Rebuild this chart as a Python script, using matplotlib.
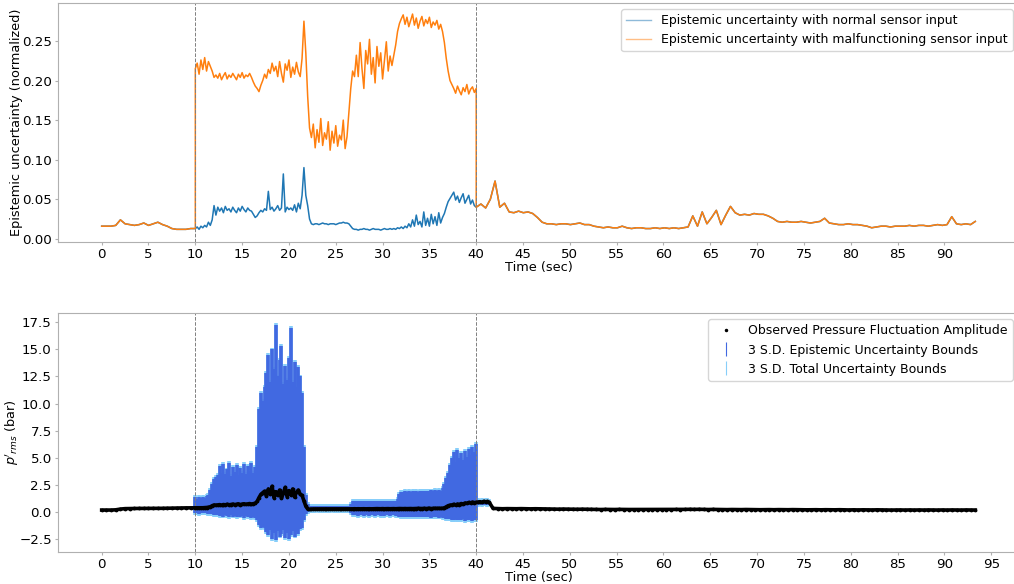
import numpy as np
import matplotlib
matplotlib.use("Agg")
import matplotlib.pyplot as plt
from matplotlib.lines import Line2D

# ---- top panel: normalized epistemic uncertainty ----
# shared part before the fault window (0-10 s, 0.5 s steps)
unc_pre = [0.016, 0.016, 0.016, 0.017, 0.024, 0.019, 0.018, 0.017, 0.018, 0.020,
           0.017, 0.019, 0.021, 0.018, 0.016, 0.013, 0.012, 0.012, 0.012, 0.013, 0.013]

# fault window 10-40 s (0.2 s steps)
unc_malf_mid = [
    0.215, 0.222, 0.208, 0.226, 0.214, 0.229, 0.212, 0.224, 0.218,
    0.212, 0.204, 0.207,
    0.203, 0.209, 0.201, 0.206, 0.210, 0.202, 0.207, 0.204, 0.209, 0.205,
    0.201, 0.208, 0.204, 0.210, 0.203, 0.207, 0.205, 0.209, 0.204,
    0.198, 0.193, 0.190, 0.186, 0.194,
    0.200, 0.208, 0.203, 0.214, 0.209, 0.222, 0.212,
    0.218, 0.205, 0.224, 0.209, 0.198, 0.221, 0.213, 0.226, 0.204, 0.217,
    0.208, 0.223, 0.211, 0.205,
    0.228, 0.275, 0.235, 0.180, 0.140,
    0.128, 0.145, 0.115, 0.138, 0.122, 0.152, 0.118, 0.134, 0.126, 0.148,
    0.112, 0.136, 0.121, 0.143, 0.117, 0.131, 0.125, 0.150, 0.114, 0.129,
    0.160, 0.190, 0.212, 0.205,
    0.232, 0.205, 0.248, 0.215, 0.190, 0.238, 0.221, 0.252, 0.208, 0.229,
    0.197, 0.243, 0.218, 0.235, 0.202, 0.226, 0.249, 0.212, 0.231, 0.219,
    0.232, 0.245, 0.262, 0.272,
    0.278, 0.283, 0.271, 0.280, 0.268, 0.276, 0.284, 0.270, 0.279, 0.266, 0.275,
    0.281, 0.269, 0.277, 0.272, 0.280, 0.267, 0.274, 0.270, 0.276, 0.265, 0.271,
    0.262, 0.248, 0.228, 0.212, 0.200, 0.195,
    0.190, 0.184, 0.193, 0.187, 0.182, 0.191, 0.186, 0.195, 0.183, 0.189,
    0.192, 0.185, 0.190]

unc_norm_mid = [
    0.013, 0.015, 0.012, 0.016, 0.014, 0.017, 0.015,
    0.021, 0.017, 0.024, 0.042, 0.030,
    0.040, 0.035, 0.039, 0.033, 0.041, 0.036, 0.038, 0.034, 0.040, 0.036,
    0.033, 0.039, 0.035, 0.041, 0.037, 0.034, 0.039, 0.036, 0.035,
    0.031, 0.027, 0.029, 0.033,
    0.036, 0.034, 0.038, 0.036, 0.060, 0.037, 0.040, 0.035, 0.038, 0.042, 0.036,
    0.039, 0.082, 0.034, 0.040, 0.037, 0.039, 0.036, 0.043, 0.034, 0.045, 0.038,
    0.055, 0.090, 0.055, 0.042, 0.025,
    0.019, 0.018, 0.019, 0.019, 0.018, 0.019, 0.020, 0.019, 0.019, 0.018,
    0.019, 0.019, 0.019, 0.018, 0.019, 0.020, 0.020, 0.021, 0.020, 0.020,
    0.019, 0.016, 0.013, 0.012,
    0.012, 0.011, 0.012, 0.012, 0.013, 0.012, 0.012, 0.011, 0.012, 0.013,
    0.012, 0.012, 0.012, 0.011, 0.012, 0.013, 0.012, 0.012, 0.013, 0.012,
    0.013, 0.012, 0.014, 0.013, 0.015, 0.013,
    0.016, 0.014, 0.019, 0.015, 0.024, 0.016, 0.030, 0.018, 0.022, 0.015, 0.034,
    0.017, 0.026, 0.016, 0.031, 0.019, 0.028, 0.017, 0.033, 0.020, 0.027,
    0.032, 0.040, 0.047, 0.051, 0.055,
    0.059, 0.049, 0.054, 0.046, 0.052, 0.057, 0.045, 0.050, 0.055, 0.044,
    0.049, 0.042, 0.040]

# shared part after the fault window (40-93.3 s, ~0.5 s steps)
unc_post = [
    0.040, 0.044, 0.039, 0.050, 0.073, 0.040, 0.045,
    0.034, 0.033, 0.035, 0.033, 0.034, 0.032,
    0.027, 0.021, 0.019,
    0.019, 0.018, 0.019, 0.019, 0.018, 0.019, 0.020, 0.018, 0.018,
    0.016, 0.015,
    0.014, 0.015, 0.014, 0.014, 0.016, 0.014, 0.013, 0.014, 0.014, 0.013,
    0.013, 0.014, 0.013, 0.014, 0.013, 0.014, 0.013, 0.014, 0.015,
    0.029, 0.016, 0.034, 0.019, 0.027, 0.036, 0.018,
    0.030, 0.041, 0.033,
    0.030, 0.031, 0.030, 0.032, 0.031, 0.031, 0.029,
    0.026, 0.022,
    0.021, 0.022, 0.021, 0.021, 0.022, 0.021, 0.020, 0.021, 0.022,
    0.026, 0.020,
    0.019, 0.018, 0.018, 0.019, 0.018, 0.018, 0.017,
    0.016, 0.014, 0.015,
    0.016, 0.016, 0.015, 0.016, 0.016, 0.016, 0.017, 0.016, 0.017, 0.017,
    0.016, 0.017, 0.018, 0.017, 0.018,
    0.028, 0.019,
    0.018, 0.019, 0.018, 0.022]

# ---- bottom panel: observed p'rms and predicted uncertainty bounds ----
obs_pre = [0.15, 0.15, 0.15, 0.17, 0.24, 0.28, 0.29, 0.30, 0.30, 0.30,
           0.31, 0.30, 0.31, 0.31, 0.32, 0.33, 0.34, 0.34, 0.35, 0.35]

# 10-41.4 s, 0.2 s steps
obs_band = [
    0.35, 0.36, 0.35, 0.36, 0.36, 0.37, 0.37, 0.40,
    0.45, 0.55, 0.62, 0.60,
    0.62, 0.65, 0.60, 0.66, 0.63, 0.68, 0.64, 0.66, 0.70, 0.65, 0.68,
    0.72, 0.66, 0.70, 0.73, 0.68, 0.71, 0.75, 0.70, 0.74, 0.78,
    0.95, 1.30, 1.60, 1.75,
    1.90, 1.45, 2.10, 1.60, 2.35, 1.30, 1.85, 1.50, 2.00, 1.25,
    1.70, 2.25, 1.40, 1.95, 1.55, 2.10, 1.35, 1.80, 2.00, 1.60,
    1.50, 1.00, 0.50, 0.25, 0.22,
    0.24, 0.25, 0.25, 0.26, 0.25, 0.25, 0.26, 0.25, 0.25, 0.26, 0.25,
    0.25, 0.26, 0.25, 0.26, 0.26, 0.25, 0.26, 0.26, 0.25, 0.26,
    0.26, 0.26, 0.27, 0.26, 0.27, 0.26, 0.27, 0.27, 0.26, 0.27,
    0.27, 0.26, 0.27, 0.27, 0.28, 0.27, 0.27, 0.28, 0.27, 0.28,
    0.28, 0.27, 0.28, 0.28, 0.27, 0.28, 0.29, 0.28, 0.28, 0.29,
    0.28, 0.29, 0.29, 0.28, 0.29, 0.29, 0.30, 0.29, 0.29, 0.30,
    0.29, 0.30, 0.30, 0.29, 0.30, 0.31, 0.30, 0.31, 0.30, 0.31,
    0.35, 0.45, 0.55, 0.60,
    0.62, 0.68, 0.60, 0.70, 0.66, 0.75, 0.70, 0.80, 0.78, 0.85,
    0.80, 0.88, 0.84, 0.86,
    0.88, 0.92, 0.86, 0.95, 0.90, 0.94, 0.85]

epi_hi = [
    1.35, 1.20, 1.40, 1.25, 1.38, 1.30, 1.42, 1.50,
    2.00, 2.60, 3.00, 3.20,
    3.40, 4.20, 3.60, 4.40, 3.50, 3.90, 4.50, 3.30, 4.10, 3.70, 4.30,
    3.40, 4.00, 3.60, 4.40, 3.50, 4.20, 3.80, 4.50, 3.60, 4.10,
    6.00, 9.50, 11.0, 10.2,
    11.5, 12.8, 14.5, 12.0, 15.0, 13.2, 17.3, 12.5, 14.0, 15.3,
    11.8, 13.5, 12.2, 14.2, 17.0, 12.0, 13.8, 11.5, 13.4, 12.5,
    11.0, 6.00, 1.50, 0.70, 0.55,
    0.55, 0.52, 0.55, 0.53, 0.56, 0.54, 0.55, 0.52, 0.56, 0.54, 0.55,
    0.53, 0.55, 0.56, 0.54, 0.55, 0.53, 0.56, 0.55, 0.54, 0.55,
    0.70, 0.95,
    1.00, 0.98, 1.02, 0.97, 1.01, 0.99, 1.03, 0.98, 1.00, 1.02,
    0.97, 1.01, 0.99, 1.02, 0.98, 1.00, 1.03, 0.99, 1.01, 0.98,
    0.99, 1.02, 1.00,
    1.20, 1.60,
    1.85, 1.80, 1.90, 1.82, 1.88, 1.84, 1.92, 1.86, 1.90, 1.83,
    1.91, 1.87, 1.93, 1.88, 1.95, 1.90, 1.96, 1.92, 1.98, 1.94,
    2.00, 1.95, 2.20,
    2.60, 3.10, 3.60, 4.30, 5.00, 5.50, 4.60, 5.70, 5.00, 5.40,
    4.80, 5.60, 5.10, 5.80, 5.20, 6.00, 5.50, 6.30,
    1.05, 1.02, 1.06, 1.03, 1.05, 1.04, 1.02]

epi_lo = [
    -0.15, -0.10, -0.18, -0.12, -0.15, -0.10, -0.16, -0.20,
    -0.22, -0.25, -0.30, -0.30,
    -0.30, -0.40, -0.35, -0.45, -0.30, -0.40, -0.50, -0.35, -0.45, -0.40, -0.50,
    -0.35, -0.45, -0.40, -0.55, -0.40, -0.50, -0.45, -0.55, -0.50, -0.60,
    -0.80, -1.20, -1.50, -1.40,
    -1.50, -1.90, -2.20, -1.70, -2.50, -2.00, -2.60, -1.80, -2.30, -2.10,
    -1.70, -2.40, -2.00, -2.50, -2.20, -1.80, -2.30, -1.90, -2.10, -1.60,
    -1.50, -0.80, -0.20, 0.00, 0.08,
    0.10, 0.09, 0.10, 0.11, 0.10, 0.09, 0.10, 0.11, 0.10, 0.09, 0.10,
    0.11, 0.10, 0.09, 0.10, 0.10, 0.11, 0.10, 0.09, 0.10, 0.10,
    -0.10, -0.30,
    -0.35, -0.33, -0.36, -0.34, -0.35, -0.37, -0.34, -0.35, -0.36, -0.33,
    -0.35, -0.36, -0.34, -0.35, -0.37, -0.34, -0.36, -0.35, -0.34, -0.36,
    -0.35, -0.34, -0.36,
    -0.40, -0.45,
    -0.50, -0.48, -0.52, -0.49, -0.51, -0.50, -0.53, -0.49, -0.51, -0.50,
    -0.52, -0.50, -0.53, -0.51, -0.52, -0.50, -0.54, -0.51, -0.53, -0.52,
    -0.54, -0.52, -0.55,
    -0.60, -0.65, -0.70, -0.70, -0.75, -0.80, -0.70, -0.80, -0.75, -0.80,
    -0.70, -0.85, -0.75, -0.80, -0.70, -0.85, -0.75, -0.80,
    0.65, 0.68, 0.64, 0.66, 0.67, 0.65, 0.66]

ale_3sd = 0.18  # extra width of the total (epistemic + aleatoric) bounds

obs_post = [
    0.30,
    0.28, 0.27, 0.28, 0.27, 0.27, 0.28, 0.27, 0.26, 0.27, 0.26, 0.25,
    0.24, 0.24, 0.23, 0.24, 0.23, 0.23, 0.22, 0.23, 0.22,
    0.21, 0.21, 0.20, 0.21, 0.20, 0.20, 0.21, 0.20, 0.20, 0.20,
    0.20, 0.19, 0.20, 0.20, 0.19, 0.20, 0.19, 0.20, 0.21, 0.20,
    0.21, 0.22, 0.21, 0.22, 0.21, 0.20, 0.21, 0.20, 0.20, 0.19,
    0.20, 0.19, 0.19, 0.20, 0.19, 0.19, 0.18, 0.19, 0.19, 0.18,
    0.19, 0.18, 0.18, 0.19, 0.18, 0.18, 0.17, 0.18, 0.18, 0.17,
    0.18, 0.17, 0.17, 0.18, 0.17, 0.16, 0.17, 0.16, 0.17, 0.16,
    0.16, 0.17, 0.16, 0.16, 0.15, 0.16, 0.16, 0.15, 0.16, 0.15,
    0.16, 0.15, 0.16, 0.15, 0.15, 0.16, 0.15, 0.16, 0.15, 0.15,
    0.16, 0.15, 0.15]

fault_times = [10, 40]

# time grids
t_pre = np.linspace(0, 10, len(unc_pre))
t_mid = np.linspace(10, 40, len(unc_malf_mid))
t_post = np.linspace(40, 93.3, len(unc_post))
t_obs_pre = np.linspace(0, 9.5, len(obs_pre))
t_band = np.linspace(10, 41.4, len(obs_band))
t_obs_post = np.linspace(41.8, 93.3, len(obs_post))

t_top = np.concatenate([t_pre, t_mid, t_post])
unc_norm = np.concatenate([unc_pre, unc_norm_mid, unc_post])
unc_malf = np.concatenate([unc_pre, unc_malf_mid, unc_post])

epi_hi = np.array(epi_hi)
epi_lo = np.array(epi_lo)
pred_mid = (epi_hi + epi_lo) / 2
epi_half = (epi_hi - epi_lo) / 2
tot_half = epi_half + ale_3sd

spine_col = "#b0b0b0"
c_norm, c_malf = "#1f77b4", "#ff7f0e"
leg_fs = 9.0
lab_fs = 9.3

fig = plt.figure(figsize=(10.14, 5.84), dpi=100)
ax1 = fig.add_axes([0.0572, 0.5856, 0.9477, 0.4093])
ax2 = fig.add_axes([0.0572, 0.0548, 0.9477, 0.4092])

ax1.plot(t_top, unc_norm, color=c_norm, lw=1.1)
ax1.plot(t_top, unc_malf, color=c_malf, lw=1.1)
leg_lines = [Line2D([], [], color=c_norm, lw=1.0, alpha=0.5),
             Line2D([], [], color=c_malf, lw=1.0, alpha=0.5)]
ax1.legend(leg_lines, ["Epistemic uncertainty with normal sensor input",
                       "Epistemic uncertainty with malfunctioning sensor input"],
           loc="upper right", fontsize=leg_fs)
ax1.set_ylabel("Epistemic uncertainty (normalized)", fontsize=lab_fs)
ax1.yaxis.set_label_coords(-0.036, 0.5)
ax1.set_ylim(-0.004, 0.298)
ax1.set_yticks([0.0, 0.05, 0.10, 0.15, 0.20, 0.25])
ax1.set_xticks(np.arange(0, 91, 5))

ax2.errorbar(t_band, pred_mid, yerr=tot_half, fmt="none",
             ecolor="lightskyblue", elinewidth=2.6)
ax2.errorbar(t_band, pred_mid, yerr=epi_half, fmt="none",
             ecolor="royalblue", elinewidth=2.6)
t_obs = np.concatenate([t_obs_pre, t_band, t_obs_post])
obs = np.concatenate([obs_pre, obs_band, obs_post])
ax2.plot(t_obs, obs, color="k", lw=2.6, zorder=3)
ax2.scatter(t_obs, obs, s=3, c="k", zorder=4)
ax2.set_ylabel(r"$p'_{rms}$ (bar)", fontsize=lab_fs)
ax2.yaxis.set_label_coords(-0.039, 0.5)
ax2.set_ylim(-3.73, 18.37)
ax2.set_yticks(np.arange(-2.5, 17.6, 2.5))
ax2.set_xticks(np.arange(0, 96, 5))
h_dot = Line2D([], [], color="k", marker=".", ms=3, ls="none")
h_b1 = Line2D([], [], color="royalblue", marker="|", ms=10, mew=0.8, ls="none")
h_b2 = Line2D([], [], color="lightskyblue", marker="|", ms=10, mew=0.8, ls="none")
ax2.legend([h_dot, h_b1, h_b2],
           ["Observed Pressure Fluctuation Amplitude",
            "3 S.D. Epistemic Uncertainty Bounds",
            "3 S.D. Total Uncertainty Bounds"],
           loc="upper right", fontsize=leg_fs)

for ax in (ax1, ax2):
    ax.set_xlim(-4.665, 97.965)
    ax.set_xlabel("Time (sec)", labelpad=0, fontsize=lab_fs)
    for ft in fault_times:
        ax.axvline(ft, color="gray", ls="--", lw=0.7)
    for s in ax.spines.values():
        s.set_color(spine_col)
    ax.tick_params(length=2, color=spine_col, pad=2.5, labelsize=9.6)

fig.savefig("out.png", dpi=100)
